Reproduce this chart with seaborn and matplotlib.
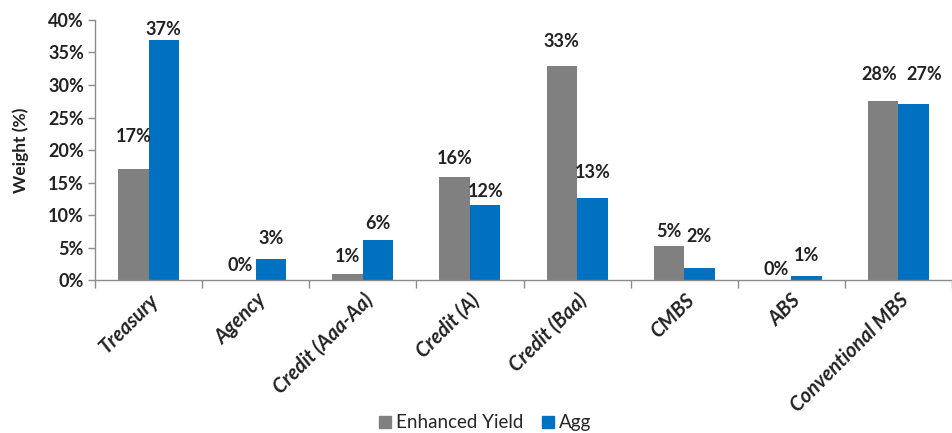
import pandas as pd
import matplotlib
matplotlib.use("Agg")
import matplotlib.pyplot as plt
import seaborn as sns
from matplotlib.ticker import PercentFormatter, FixedLocator

# dados
sectors = ["Treasury", "Agency", "Credit (Aaa-Aa)", "Credit (A)", "Credit (Baa)",
           "CMBS", "ABS", "Conventional MBS"]
enhanced_yield = [17.1, 0.0, 1.0, 15.9, 32.9, 5.3, 0.0, 27.6]
agg = [36.9, 3.3, 6.1, 11.6, 12.6, 1.9, 0.6, 27.1]
series_names = ["Enhanced Yield", "Agg"]

# estilo
GRAY = "#808080"
BLUE = "#0070C0"
AXIS_COLOR = "#8C8C8C"
TEXT = "#222222"
FONT = "Lato"
# deslocamento (px) do rótulo em relação ao topo da barra, por série
pad_ey = [24, 6, 9, 10, 16, 6, 2, 18]
pad_agg = [2, 12, 8, 5, 17, 23, 12, 21]
dx_ey = [0, 0, 0, 0, 0, 0, 0, -4]
dx_agg = [0, 0, 0, 0, 0, 0, 0, 11]

sns.set_theme(style="white")
plt.rcParams["font.family"] = [FONT, "DejaVu Sans"]

df = pd.DataFrame({
    "sector": sectors * 2,
    "weight": enhanced_yield + agg,
    "series": [series_names[0]] * len(sectors) + [series_names[1]] * len(sectors),
})

fig = plt.figure(figsize=(9.52, 4.33), dpi=100)
ax = fig.add_axes([0.0998, 0.353, 0.9002, 0.601])

sns.barplot(data=df, x="sector", y="weight", hue="series", hue_order=series_names,
            palette=[GRAY, BLUE], saturation=1, width=0.57, linewidth=0,
            errorbar=None, legend=False, ax=ax)

ax.set_ylim(0, 40)
ax.set_xlim(-0.5, len(sectors) - 0.5)
ax.yaxis.set_major_locator(FixedLocator(range(0, 41, 5)))
ax.yaxis.set_major_formatter(PercentFormatter(decimals=0))

for s in ["top", "right"]:
    ax.spines[s].set_visible(False)
for s in ["left", "bottom"]:
    ax.spines[s].set_color(AXIS_COLOR)
    ax.spines[s].set_linewidth(1)

ax.tick_params(axis="y", which="major", direction="out", length=5, width=1,
               color=AXIS_COLOR, pad=3, left=True)
for lab in ax.get_yticklabels():
    lab.set_fontsize(13)
    lab.set_fontweight("bold")
    lab.set_color(TEXT)

# ticks do eixo x nas fronteiras das categorias (estilo Excel)
ax.set_xticks([i - 0.5 for i in range(len(sectors) + 1)], minor=True)
ax.tick_params(axis="x", which="minor", direction="out", length=6, width=1,
               color=AXIS_COLOR, bottom=True)
ax.tick_params(axis="x", which="major", length=0, pad=7)
ax.set_xticks(range(len(sectors)))
ax.set_xticklabels(sectors, rotation=45, ha="right", rotation_mode="anchor",
                   fontsize=14.5, fontweight="bold", fontstyle="italic", color=TEXT)

ax.set_xlabel("")
ax.set_ylabel("Weight (%)", fontsize=12.5, fontweight="bold", color=TEXT, labelpad=14)

# rótulos de valor
for cont, vals, pads, dxs in zip(ax.containers, [enhanced_yield, agg],
                                 [pad_ey, pad_agg], [dx_ey, dx_agg]):
    for bar, v, p, dx in zip(cont, vals, pads, dxs):
        x = bar.get_x() + bar.get_width() / 2
        ax.annotate(f"{v:.0f}%", (x, bar.get_height()), xytext=(dx, p),
                    textcoords="offset pixels", ha="center", va="bottom",
                    fontsize=13, fontweight="bold", color=TEXT)

handles = [plt.Rectangle((0, 0), 1, 1, color=c) for c in [GRAY, BLUE]]
fig.legend(handles, series_names, loc="lower center", bbox_to_anchor=(0.51, -0.035),
           ncol=2, frameon=False, fontsize=13.5, handlelength=0.6, handleheight=0.6,
           handletextpad=0.3, columnspacing=1.0)

fig.savefig("out.png", dpi=100)
